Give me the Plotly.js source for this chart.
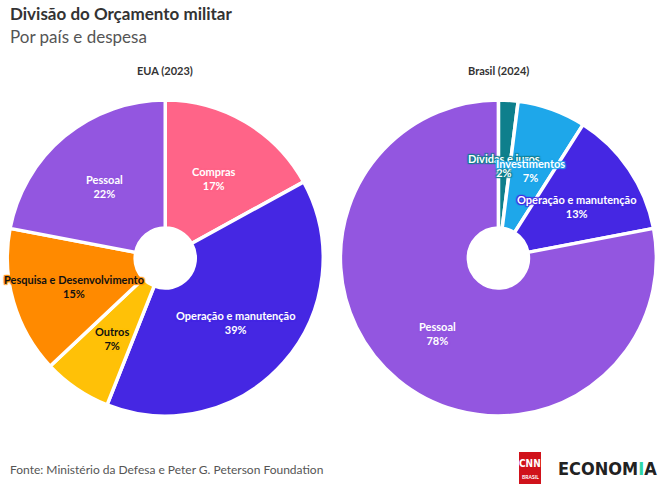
<!DOCTYPE html>
<html><head><meta charset="utf-8">
<script src="https://cdn.plot.ly/plotly-3.0.1.min.js"></script>
<style>body{margin:0;background:#fff}#c{width:661px;height:488px}</style>
</head><body><div id="c"></div>
<script>
const usaLabels = ['Compras','Operação e manutenção','Outros','Pesquisa e Desenvolvimento','Pessoal'];
const usaValues = [17,39,7,15,22];
const usaColors = ['#FF6488','#4527E3','#FFC107','#FF8A00','#9356E0'];
const usaText = ['#ffffff','#ffffff','#111111','#111111','#ffffff'];
const brLabels = ['Dívidas e juros','Investimentos','Operação e manutenção','Pessoal'];
const brValues = [2,7,13,78];
const brColors = ['#0E7F8C','#1EA7EA','#4527E3','#9356E0'];
const brText = ['#ffffff','#ffffff','#ffffff','#ffffff'];
const FONT = 'Lato, "Noto Sans", sans-serif';
const W = 661, H = 488;
const Y0 = 100, Y1 = 416;          // vertical extent of the pies (px)
const domY = [1 - Y1/H, 1 - Y0/H];

function pie(labels, values, colors, dx){
  return {type:'pie', labels:labels, values:values, sort:false, direction:'clockwise', rotation:0,
    hole:0.19, marker:{colors:colors, line:{color:'#fff', width:3.5}},
    textinfo:'none', domain:{x:dx, y:domY}, showlegend:false, hoverinfo:'label+value'};
}
const dA = [0,0.5], dB = [0.508,1];
const data = [pie(usaLabels, usaValues, usaColors, dA), pie(brLabels, brValues, brColors, dB)];

// labels placed along each slice's mid-angle, derived from the values
function sliceLabels(labels, values, colors, tcols, dx){
  const tot = values.reduce((a,b)=>a+b,0);
  const cx = (dx[0]+dx[1])/2*W, cy = (Y0+Y1)/2, r = (Y1-Y0)/2*0.6;
  let cum = 0; const out = [];
  values.forEach((v,i)=>{
    const a = (cum + v/2)/tot*2*Math.PI; cum += v;
    const x = cx + r*Math.sin(a), y = cy - r*Math.cos(a) + 2;
    const c = colors[i];
    const sh = `1px 1px 1px ${c}, -1px -1px 1px ${c}, 1px -1px 1px ${c}, -1px 1px 1px ${c}, 0 0 2px ${c}`;
    out.push({text:`<b>${labels[i]}</b><br><b>${v}%</b>`, x:x/W, y:1-y/H, xref:'paper', yref:'paper',
      xanchor:'center', yanchor:'middle', showarrow:false, align:'center',
      font:{family:FONT, size:11, color:tcols[i], shadow:sh}});
  });
  return out;
}

const annotations = [
  {text:'<b>Divisão do Orçamento militar</b>', x:8/W, y:1-14/H, xref:'paper', yref:'paper', xanchor:'left', yanchor:'middle', showarrow:false, font:{size:17, color:'#333'}},
  {text:'Por país e despesa', x:8/W, y:1-37/H, xref:'paper', yref:'paper', xanchor:'left', yanchor:'middle', showarrow:false, font:{size:17, color:'#555'}},
  {text:'<b>EUA (2023)</b>', x:165/W, y:1-70/H, xref:'paper', yref:'paper', xanchor:'center', yanchor:'middle', showarrow:false, font:{size:11, color:'#333'}},
  {text:'<b>Brasil (2024)</b>', x:498/W, y:1-70/H, xref:'paper', yref:'paper', xanchor:'center', yanchor:'middle', showarrow:false, font:{size:11, color:'#333'}},
  {text:'Fonte: Ministério da Defesa e Peter G. Peterson Foundation', x:8/W, y:1-469/H, xref:'paper', yref:'paper', xanchor:'left', yanchor:'middle', showarrow:false, font:{size:12, color:'#555'}},
  {text:'<b>CNN</b>', x:530/W, y:1-463/H, xref:'paper', yref:'paper', xanchor:'center', yanchor:'middle', showarrow:false, font:{family:'"DejaVu Sans Condensed", sans-serif', size:10, color:'#fff'}},
  {text:'<b>BRASIL</b>', x:530/W, y:1-477/H, xref:'paper', yref:'paper', xanchor:'center', yanchor:'middle', showarrow:false, font:{size:5, color:'#fff'}},
  {text:'<b>ECONOM<span style="color:#2FD6A6">I</span>A</b>', x:556/W, y:1-468/H, xref:'paper', yref:'paper', xanchor:'left', yanchor:'middle', showarrow:false, font:{family:'"DejaVu Sans Condensed", sans-serif', size:18, color:'#222'}}
].concat(sliceLabels(usaLabels, usaValues, usaColors, usaText, dA), sliceLabels(brLabels, brValues, brColors, brText, dB));

const layout = {width:W, height:H, margin:{l:0,r:0,t:0,b:0}, paper_bgcolor:'#fff',
  font:{family:FONT}, annotations:annotations,
  shapes:[
    {type:'rect', xref:'paper', yref:'paper', x0:519/W, x1:541/W, y0:1-484/H, y1:1-452/H, fillcolor:'#D0121B', line:{width:0}, layer:'below'}
  ]
};
Plotly.newPlot('c', data, layout, {displayModeBar:false, staticPlot:true});
</script></body></html>
